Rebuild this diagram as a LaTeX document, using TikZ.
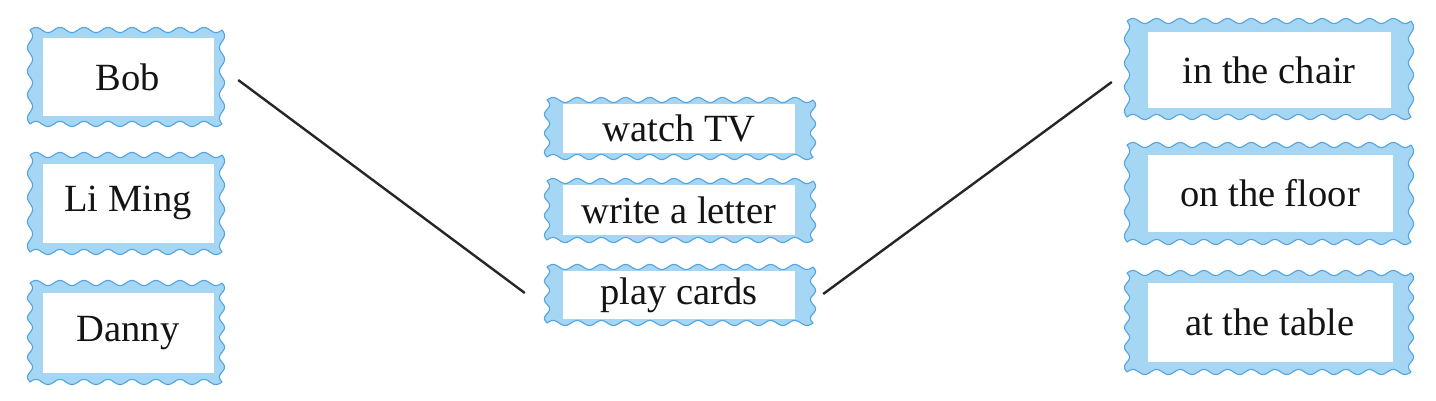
\documentclass[tikz,border=0pt]{standalone}
\usepackage{fontspec}
\setmainfont{Liberation Serif}
\definecolor{boxfill}{RGB}{165,214,243}
\definecolor{boxline}{RGB}{84,164,224}
\tikzset{
  wavy/.style={draw=boxline, line width=1.1pt, fill=boxfill, line join=round},
  outerbox/.style={inner sep=0pt},
  inbox/.style={fill=white, inner sep=0pt},
  lbl/.style={font=\fontsize{38.5}{42}\selectfont, text=black!92},
  link/.style={draw=black!85, line width=2.4pt}
}
\def\wa{2.6}
% #1 name, #2 x1, #3 y1, #4 x2, #5 y2
\newcommand\wavyrect[5]{%
  \pgfmathsetmacro\wW{#4-#2}%
  \pgfmathsetmacro\wH{#5-#3}%
  \pgfmathsetmacro\wkx{360/(\wW/round(\wW/24))}%
  \pgfmathsetmacro\wky{360/(\wH/round(\wH/22))}%
  \path[wavy]
    plot[domain=#2:#4, samples=120] (\x,{#3-\wa*sin(\wkx*(\x-#2))})
    -- plot[domain=#3:#5, samples=60] ({#4+\wa*sin(\wky*(\x-#3))},\x)
    -- plot[domain=#4:#2, samples=120] (\x,{#5+\wa*sin(\wkx*(#4-\x))})
    -- plot[domain=#5:#3, samples=60] ({#2-\wa*sin(\wky*(#5-\x))},\x)
    -- cycle;
  \node[outerbox, minimum width=\wW pt, minimum height=\wH pt] (#1) at ({(#2+#4)/2},{(#3+#5)/2}) {};%
}
\begin{document}
\begin{tikzpicture}[x=1pt,y=-1pt]
\useasboundingbox (0,0) rectangle (1436,400);
% left column
\wavyrect{bobo}{30}{30}{222}{124}
\node[inbox,lbl,minimum width=171pt,minimum height=78pt] (bob) at (128,77) {Bob};
\wavyrect{limingo}{30}{155}{222}{252}
\node[inbox,lbl,minimum width=171pt,minimum height=79pt] (liming) at (128,203) {Li Ming};
\wavyrect{dannyo}{30}{283}{222}{382}
\node[inbox,lbl,minimum width=171pt,minimum height=80pt] (danny) at (128,333) {Danny};
% middle column
\wavyrect{tvo}{547}{100}{813}{157}
\node[inbox,lbl,minimum width=232pt,minimum height=49pt] (tv) at (679,128) {watch TV};
\wavyrect{lettero}{547}{181}{813}{240}
\node[inbox,lbl,minimum width=232pt,minimum height=50pt] (letter) at (679,210) {write a letter};
\wavyrect{cardso}{547}{267}{813}{323}
\node[inbox,lbl,minimum width=232pt,minimum height=48pt] (cards) at (679,295) {play cards};
% right column
\wavyrect{chairo}{1127}{21}{1411}{117}
\node[inbox,lbl,minimum width=243pt,minimum height=76pt] (chair) at (1269,70) {in the chair};
\wavyrect{flooro}{1127}{145}{1411}{242}
\node[inbox,lbl,minimum width=245pt,minimum height=77pt] (floor) at (1270,193) {on the floor};
\wavyrect{tableo}{1127}{273}{1411}{372}
\node[inbox,lbl,minimum width=245pt,minimum height=79pt] (table) at (1270,322) {at the table};
% connectors
\draw[link] ([xshift=16pt,yshift=-3pt]bobo.east) -- ([xshift=-22pt,yshift=2pt]cardso.west);
\draw[link] ([xshift=10pt,yshift=1pt]cardso.east) -- ([xshift=-15pt,yshift=-13pt]chairo.west);
\end{tikzpicture}
\end{document}
